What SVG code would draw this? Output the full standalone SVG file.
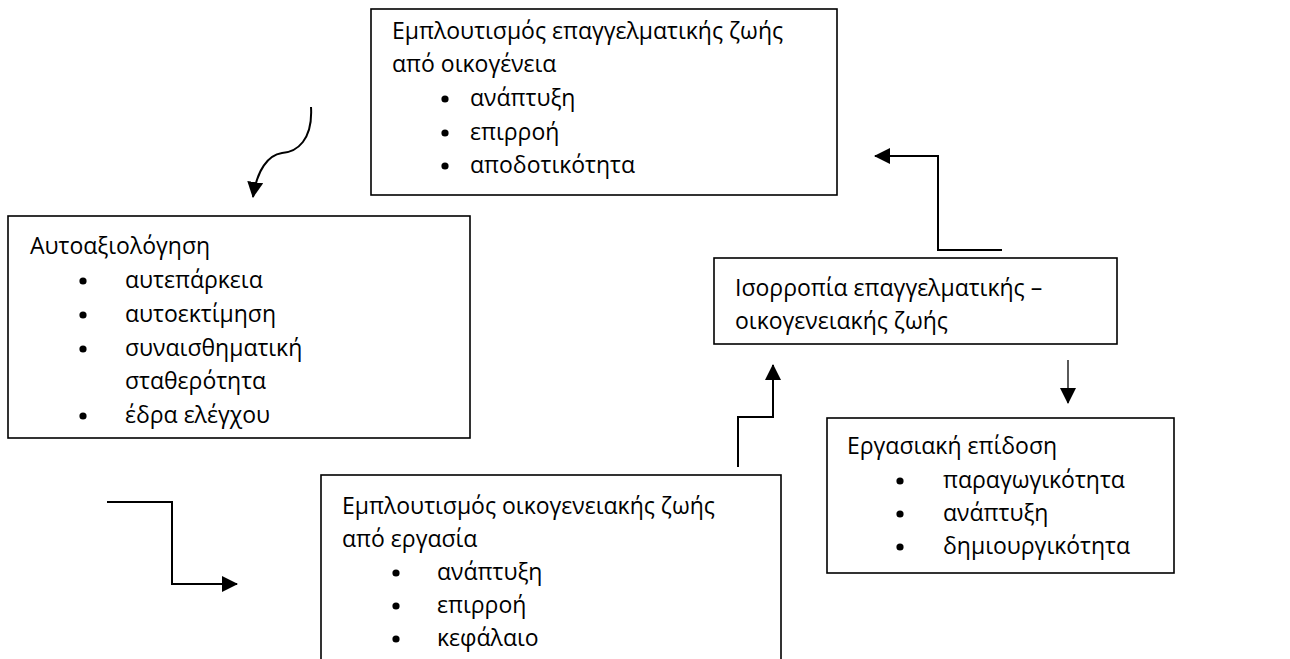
<svg xmlns="http://www.w3.org/2000/svg" width="1290" height="659" viewBox="0 0 1290 659">
<defs>
<style>
.box{fill:#fff;stroke:#000;stroke-width:1.6}
.t{font-family:"Open Sans","Noto Sans","DejaVu Sans",sans-serif;font-size:23px;fill:#000}
.b{fill:#000}
.c{fill:none;stroke:#000;stroke-width:2}
.thin{fill:none;stroke:#000;stroke-width:1.3}
</style>
<marker id="ah" markerUnits="userSpaceOnUse" markerWidth="16" markerHeight="16" viewBox="0 0 16 16" refX="15" refY="8" orient="auto">
<path d="M0,0 L16,8 L0,16 Z" fill="#000"/>
</marker>
</defs>
<rect width="1290" height="659" fill="#fff"/>
<g id="connectors">
<path class="c" d="M311,107 C313,140 297,152 282,153 C268,155 257,170 253,197" marker-end="url(#ah)"/>
<path class="c" d="M1002,250 L938,250 L938,156 L875,156" marker-end="url(#ah)"/>
<path class="c" d="M738,467 L738,417 L773,417 L773,365" marker-end="url(#ah)"/>
<path class="thin" d="M1068,360 L1068,403" marker-end="url(#ah)"/>
<path class="c" d="M107,502 L172,502 L172,584 L237,584" marker-end="url(#ah)"/>
</g>
<g id="node-top">
<rect class="box" x="371" y="9" width="466" height="186"/>
<text class="t" x="392" y="39">Εμπλουτισμός επαγγελματικής ζωής</text>
<text class="t" x="392" y="72">από οικογένεια</text>
<circle class="b" cx="445" cy="99" r="3.6"/><text class="t" x="470" y="106">ανάπτυξη</text>
<circle class="b" cx="445" cy="133" r="3.6"/><text class="t" x="470" y="140">επιρροή</text>
<circle class="b" cx="445" cy="166" r="3.6"/><text class="t" x="470" y="173">αποδοτικότητα</text>
</g>
<g id="node-self">
<rect class="box" x="8" y="216" width="462" height="222"/>
<text class="t" x="30" y="254">Αυτοαξιολόγηση</text>
<circle class="b" cx="83" cy="281" r="3.6"/><text class="t" x="125" y="288">αυτεπάρκεια</text>
<circle class="b" cx="83" cy="315" r="3.6"/><text class="t" x="125" y="322">αυτοεκτίμηση</text>
<circle class="b" cx="83" cy="349" r="3.6"/><text class="t" x="125" y="356">συναισθηματική</text>
<text class="t" x="125" y="389">σταθερότητα</text>
<circle class="b" cx="83" cy="416" r="3.6"/><text class="t" x="125" y="423">έδρα ελέγχου</text>
</g>
<g id="node-balance">
<rect class="box" x="714" y="258" width="403" height="86"/>
<text class="t" x="735" y="296">Ισορροπία επαγγελματικής –</text>
<text class="t" x="735" y="329">οικογενειακής ζωής</text>
</g>
<g id="node-performance">
<rect class="box" x="827" y="418" width="347" height="155"/>
<text class="t" x="847" y="454">Εργασιακή επίδοση</text>
<circle class="b" cx="900" cy="481" r="3.6"/><text class="t" x="943" y="488">παραγωγικότητα</text>
<circle class="b" cx="900" cy="514" r="3.6"/><text class="t" x="943" y="521">ανάπτυξη</text>
<circle class="b" cx="900" cy="547" r="3.6"/><text class="t" x="943" y="554">δημιουργικότητα</text>
</g>
<g id="node-bottom">
<rect class="box" x="321" y="475" width="460" height="200"/>
<text class="t" x="342" y="514">Εμπλουτισμός οικογενειακής ζωής</text>
<text class="t" x="342" y="547">από εργασία</text>
<circle class="b" cx="396" cy="573" r="3.6"/><text class="t" x="437" y="580">ανάπτυξη</text>
<circle class="b" cx="396" cy="606" r="3.6"/><text class="t" x="437" y="613">επιρροή</text>
<circle class="b" cx="396" cy="639" r="3.6"/><text class="t" x="437" y="646">κεφάλαιο</text>
</g>
</svg>
